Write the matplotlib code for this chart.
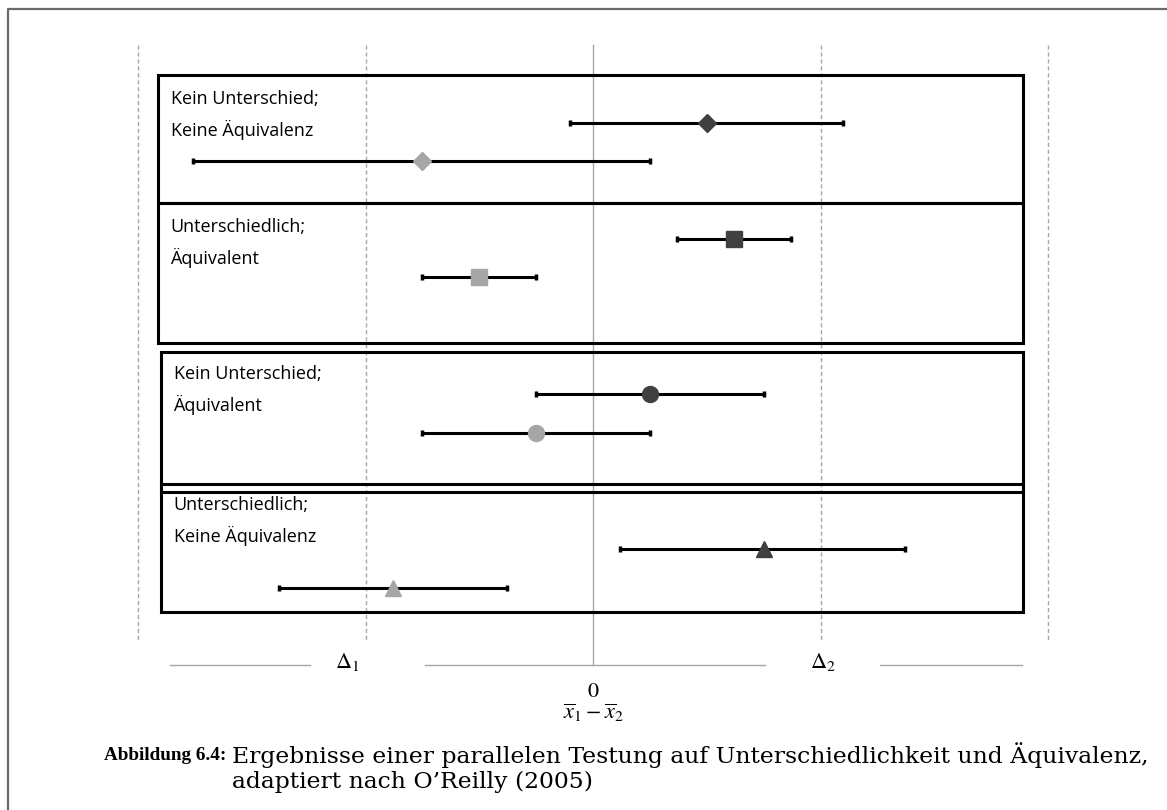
import matplotlib.pyplot as plt
from matplotlib.patches import Rectangle

# Werte in Einheiten von Delta (Delta_1 = -1, Delta_2 = +1)
gruppen = ['Kein Unterschied;\nKeine Äquivalenz',
           'Unterschiedlich;\nÄquivalent',
           'Kein Unterschied;\nÄquivalent',
           'Unterschiedlich;\nKeine Äquivalenz']
marker = ['D', 's', 'o', '^']

dunkel_mitte = [0.50, 0.62, 0.25, 0.75]
dunkel_unten = [-0.10, 0.37, -0.25, 0.12]
dunkel_oben = [1.10, 0.87, 0.75, 1.37]

hell_mitte = [-0.75, -0.50, -0.25, -0.88]
hell_unten = [-1.76, -0.75, -0.75, -1.38]
hell_oben = [0.25, -0.25, 0.25, -0.38]

delta = [-1, 1]
aussen = [-2, 2]

# Layout (Pixel von oben)
boxen = [(158, 75, 1023, 203), (158, 203, 1023, 343), (161, 352, 1023, 492), (161, 484, 1023, 612)]
zeilen = [(123, 161), (239, 277), (394, 433), (549, 588)]
text_y = [90, 218, 365, 496]
marker_groesse = [9, 12, 11.5, 11]


def px(p):
  return (p - 593) / 227.5


fig = plt.figure(figsize=(11.67, 8.10), dpi=100)
ax = fig.add_axes([0, 0, 1, 1])
ax.set_xlim(px(0), px(1167))
ax.set_ylim(810, 0)
ax.axis('off')

# Rahmen
ax.plot([px(8), px(8), px(1167)], [810, 9, 9], color='#6a6a6a', lw=1.6, clip_on=False)

# Hilfslinien
for x in delta + aussen:
  ax.plot([x, x], [45, 640], color='#a8a8a8', lw=1, linestyle=(0, (3, 2)))
ax.plot([0, 0], [45, 665], color='#a8a8a8', lw=1)
for a, b in [(170, 310), (425, 765), (880, 1022)]:
  ax.plot([px(a), px(b)], [665, 665], color='#a8a8a8', lw=1)

plt.rcParams['mathtext.fontset'] = 'stix'
ax.text(-1.08, 662, r'$\Delta_1$', fontsize=16, ha='center', va='center')
ax.text(1.01, 662, r'$\Delta_2$', fontsize=16, ha='center', va='center')
ax.text(0, 691, r'$0$', fontsize=16, ha='center', va='center')
ax.text(0, 713, r'$\overline{x}_1 - \overline{x}_2$', fontsize=16, ha='center', va='center')

for i in range(4):
  l, t, r, b = boxen[i]
  ax.add_patch(Rectangle((px(l), t), px(r) - px(l), b - t, fill=False, edgecolor='black', lw=2.2, zorder=2))
  ax.text(px(l) + 0.055, text_y[i], gruppen[i], fontsize=13, family='Open Sans', va='top', ha='left',
          linespacing=1.75)
  y1, y2 = zeilen[i]
  ax.errorbar(dunkel_mitte[i], y1, xerr=[[dunkel_mitte[i] - dunkel_unten[i]], [dunkel_oben[i] - dunkel_mitte[i]]],
              fmt='none', ecolor='black', elinewidth=2.2, capsize=2.5, capthick=2.5, zorder=3)
  ax.errorbar(hell_mitte[i], y2, xerr=[[hell_mitte[i] - hell_unten[i]], [hell_oben[i] - hell_mitte[i]]],
              fmt='none', ecolor='black', elinewidth=2.2, capsize=2.5, capthick=2.5, zorder=3)
  ax.plot(dunkel_mitte[i], y1, marker=marker[i], markersize=marker_groesse[i], color='#404040', zorder=4)
  ax.plot(hell_mitte[i], y2, marker=marker[i], markersize=marker_groesse[i], color='#a6a6a6', zorder=4)

fig.text(104 / 1167, 1 - 755 / 810, 'Abbildung 6.4:', fontsize=13.8, family='Liberation Serif',
         weight='bold', va='center', ha='left')
fig.text(232 / 1167, 1 - 755 / 810, 'Ergebnisse einer parallelen Testung auf Unterschiedlichkeit und Äquivalenz,',
         fontsize=16.9, family='DejaVu Serif', va='center', ha='left')
fig.text(232 / 1167, 1 - 782 / 810, 'adaptiert nach O’Reilly (2005)', fontsize=16.9, family='DejaVu Serif',
         va='center', ha='left')

fig.savefig('out.png', dpi=100)
